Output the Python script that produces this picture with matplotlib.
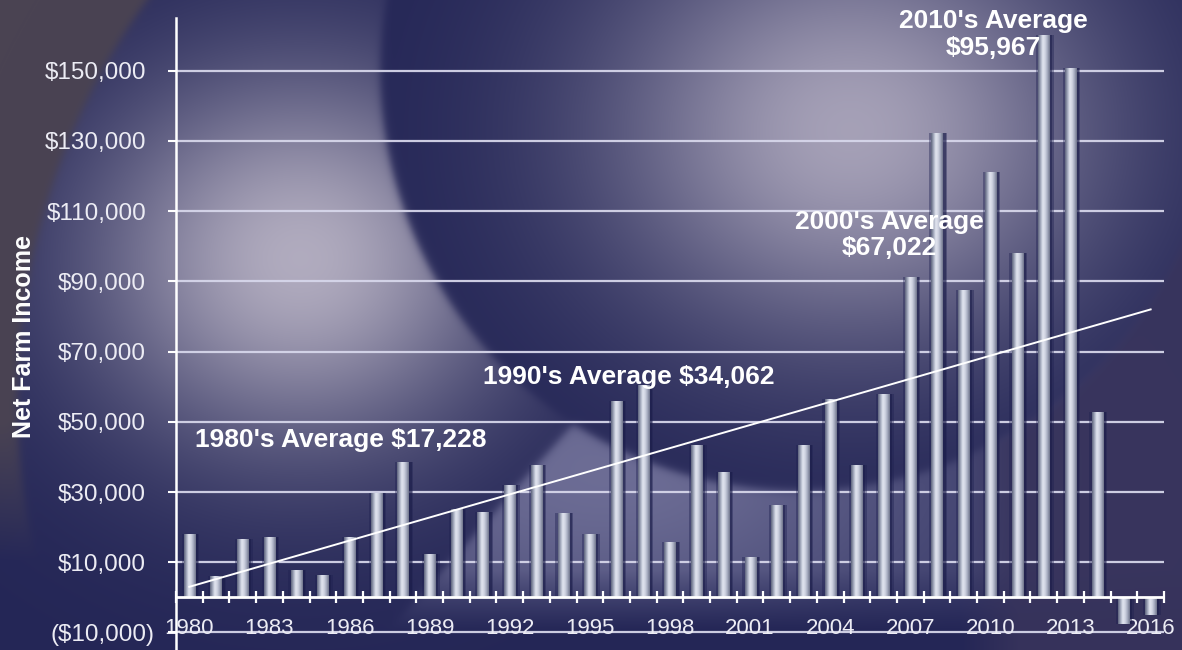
import numpy as np
import matplotlib
matplotlib.use('Agg')
import matplotlib.pyplot as plt
from matplotlib.transforms import ScaledTranslation

# ---------------- data ----------------
years = list(range(1980, 2017))
income = [18000, 6000, 16500, 17100, 7700, 6500, 17100, 29800, 38600, 12400,
          25300, 24300, 31900, 37800, 24100, 18000, 56000, 60400, 15800, 43300,
          35700, 11500, 26200, 43300, 56500, 37700, 57900, 91100, 132200, 87500,
          121200, 98100, 160300, 150900, 52800, -7500, -5100]
trend_years = [1980, 2016]
trend_values = [3000, 82000]
ytick_values = [-10000, 10000, 30000, 50000, 70000, 90000, 110000, 130000, 150000]
ytick_labels = ['($10,000)', '$10,000', '$30,000', '$50,000', '$70,000',
                '$90,000', '$110,000', '$130,000', '$150,000']
xtick_years = [1980, 1983, 1986, 1989, 1992, 1995, 1998, 2001, 2004, 2007,
               2010, 2013, 2016]
avg_texts = ["1980's Average $17,228", "1990's Average $34,062",
             "2000's Average\n$67,022", "2010's Average\n$95,967"]
ylabel = 'Net Farm Income'

plt.rcParams['font.family'] = ['Liberation Sans', 'DejaVu Sans']

W, H = 1182, 650
fig = plt.figure(figsize=(W / 100, H / 100), dpi=100)

# ---------------- background ----------------
yy, xx = np.mgrid[0:H, 0:W].astype(float)

def smooth_inside(cx, cy, rx, ry=None, soft=2.5):
    ry = rx if ry is None else ry
    d = (np.sqrt(((xx - cx) / rx) ** 2 + ((yy - cy) / ry) ** 2) - 1) * min(rx, ry)
    return 1.0 / (1.0 + np.exp(d / soft))

def glow(cx, cy, sx, sy=None):
    sy = sx if sy is None else sy
    return np.exp(-((xx - cx) ** 2 / (2 * sx ** 2) + (yy - cy) ** 2 / (2 * sy ** 2)))

def blend(base, col, w):
    col = np.asarray(col, float) / 255.0
    return base * (1 - w[..., None]) + col * w[..., None]

navy = np.array([36, 38, 86]) / 255.0
img = np.ones((H, W, 3)) * navy

# left sphere glow
img = blend(img, (192, 186, 202), 0.9 * glow(300, 258, 150, 135))

# lower-middle lighter shape: right of a slanted edge through (565,432)-(460,550)
nx, ny = 118.0, 105.0
nn = np.hypot(nx, ny)
dline = ((xx - 565) * nx + (yy - 432) * ny) / nn
low = 1.0 / (1.0 + np.exp(-dline / 2.5))
low = low * (0.25 + 0.75 * glow(610, 470, 230, 120)) * np.clip((630 - yy) / 60, 0, 1)
img = blend(img, (112, 112, 152), 0.95 * low)

# middle sphere (in front)
sph = np.ones((H, W, 3)) * navy
sph = blend(sph, (188, 182, 200), 0.85 * glow(850, 130, 175, 150))
m = smooth_inside(800, 70, 420)
img = img * (1 - m[..., None]) + sph * m[..., None]

# grey corner top-left
cw = (1 - smooth_inside(700, 400, 683)) * np.clip((560 - yy) / 140, 0, 1)
img = blend(img, (74, 67, 82), cw)

# right-lower muted purple
rw = (1 - m) * np.clip((xx - 960) / 60, 0, 1)
img = blend(img, (56, 52, 92), 0.9 * rw)

bg = fig.add_axes([0, 0, 1, 1], zorder=-10)
bg.imshow(np.clip(img, 0, 1), extent=[0, W, H, 0], aspect='auto')
bg.set_axis_off()

# ---------------- main axes ----------------
left_px, right_px, top_px = 176, 1164, 18
ax = fig.add_axes([left_px / W, 0, (right_px - left_px) / W, 1 - top_px / H])
ax.set_facecolor('none')
n = len(years)
x = np.arange(n)

for s in ['top', 'right', 'bottom']:
    ax.spines[s].set_visible(False)
ax.spines['left'].set_color('white')
ax.spines['left'].set_linewidth(1.8)
ax.spines['left'].set_zorder(6)

# gridlines
for v in ytick_values:
    ax.axhline(v, color='#d6d6ea', lw=1.6, zorder=1, alpha=0.95)

# bar halo / shadow (interrupts gridlines)
ax.bar(x + 0.04, income, width=0.66, color='#1e2050', alpha=0.4, zorder=1.5)
ax.bar(x + 0.06, income, width=0.52, color='#1a1c48', alpha=0.5, zorder=1.6)

ax.axhline(0, color='white', lw=2.0, zorder=4)
bounds = np.arange(n + 1) - 0.5
ax.plot(bounds, np.zeros_like(bounds), ls='none', marker='|', ms=9,
        mew=1.6, color='white', zorder=4, clip_on=False)

# bars with cylinder shading
bw = 0.42
bars = ax.bar(x, income, width=bw, color='#a4aabd', zorder=3)
ramp = np.array([[96, 102, 126], [160, 166, 186], [226, 229, 240],
                 [208, 212, 226], [165, 170, 190], [112, 118, 140]]) / 255.0
pos = np.linspace(0, 1, ramp.shape[0])
t = np.linspace(0, 1, 40)
grad = np.stack([np.interp(t, pos, ramp[:, c]) for c in range(3)], axis=-1)[None, :, :]
for b in bars:
    x0 = b.get_x()
    y0 = b.get_y()
    h = b.get_height()
    im = ax.imshow(grad, extent=[x0, x0 + b.get_width(), min(y0, y0 + h), max(y0, y0 + h)],
                   aspect='auto', zorder=3.1, interpolation='bilinear')
    im.set_clip_path(b)
ax.set_aspect('auto')
ax.set_xlim(-0.5, n - 0.5)
ax.set_ylim(-15000, 165000)

# trend line
tx = [years.index(v) for v in trend_years]
ax.plot(tx, trend_values, color='white', lw=1.4, zorder=5)

# ticks
ax.set_yticks(ytick_values)
ax.set_yticklabels(ytick_labels)
ax.tick_params(axis='y', length=6, width=1.5, color='white', labelcolor='#ececf4',
               labelsize=17.5, pad=15.5)
lab = ax.get_yticklabels()[0]
lab.set_transform(lab.get_transform() + ScaledTranslation(8 / 100, 0, fig.dpi_scale_trans))

ax.set_xticks([years.index(v) for v in xtick_years])
ax.set_xticklabels([str(v) for v in xtick_years])
ax.tick_params(axis='x', length=0, labelcolor='#ececf4', labelsize=16, pad=-2)
for tl in ax.get_xticklabels():
    tl.set_transform(tl.get_transform() + ScaledTranslation(0, 29 / 100, fig.dpi_scale_trans))

fig.text(24 / W, 1 - 336 / H, ylabel, rotation=90, color='white', fontsize=18,
         fontweight='bold', ha='center', va='center')

# averages annotations
tkw = dict(color='white', fontsize=19, fontweight='bold', zorder=6)
ax.text(0.2, 44700, avg_texts[0], ha='left', va='center', **tkw)
ax.text(11.0, 62700, avg_texts[1], ha='left', va='center', **tkw)
ax.text(26.2, 103200, avg_texts[2], ha='center', va='center', linespacing=1.15, **tkw)
ax.text(30.1, 160200, avg_texts[3], ha='center', va='center', linespacing=1.15, **tkw)

fig.savefig('out.png', dpi=100)
